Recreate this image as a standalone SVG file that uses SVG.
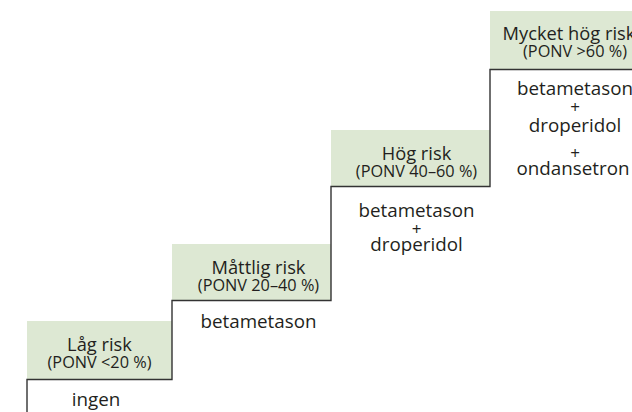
<svg xmlns="http://www.w3.org/2000/svg" width="632" height="412" viewBox="0 0 632 412">
<style>
text{font-family:"Open Sans","Noto Sans","DejaVu Sans",sans-serif;fill:#231f20;text-anchor:middle}
.m{font-size:18.3px}
.s{font-size:16.3px}
.b{font-size:18.8px}
.p{font-size:17px}
.box{fill:#dde8d3}
.stair{fill:none;stroke:#333333;stroke-width:1.4}
</style>
<rect width="632" height="412" fill="#ffffff"/>
<g id="step-low">
<rect class="box" x="27" y="321" width="145" height="58.5"/>
<text class="m" x="99.5" y="351">Låg risk</text>
<text class="s" x="99.5" y="368">(PONV &lt;20 %)</text>
<text class="b" x="96" y="406">ingen</text>
</g>
<g id="step-moderate">
<rect class="box" x="172" y="244" width="159" height="56.5"/>
<text class="m" x="258.5" y="274">Måttlig risk</text>
<text class="s" x="258.5" y="291">(PONV 20–40 %)</text>
<text class="b" x="258.5" y="328">betametason</text>
</g>
<g id="step-high">
<rect class="box" x="331" y="130" width="159" height="56.5"/>
<text class="m" x="416.5" y="160">Hög risk</text>
<text class="s" x="416.5" y="177">(PONV 40–60 %)</text>
<text class="b" x="416.5" y="217">betametason</text>
<text class="p" x="416.5" y="235">+</text>
<text class="b" x="416.5" y="251">droperidol</text>
</g>
<g id="step-veryhigh">
<rect class="box" x="490" y="11" width="142" height="58.5"/>
<text class="m" x="569" y="40">Mycket hög risk</text>
<text class="s" x="575" y="57">(PONV &gt;60 %)</text>
<text class="b" x="575" y="95">betametason</text>
<text class="p" x="575" y="113">+</text>
<text class="b" x="575" y="132">droperidol</text>
<text class="p" x="575" y="159">+</text>
<text class="b" x="573" y="175">ondansetron</text>
</g>
<g id="connectors">
<polyline class="stair" points="27,412 27,379.5 172,379.5 172,300.5 331,300.5 331,186.5 490,186.5 490,69.5 632,69.5"/>
</g>
</svg>
